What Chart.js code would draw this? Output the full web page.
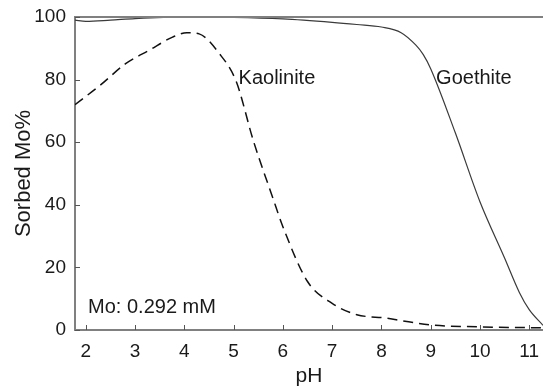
<!DOCTYPE html>
<html>
<head>
<meta charset="utf-8">
<script src="https://cdn.jsdelivr.net/npm/chart.js@4.4.1/dist/chart.umd.min.js"></script>
<style>
  html, body { margin: 0; padding: 0; background: #fff; }
  #wrap { width: 543px; height: 389px; }
</style>
</head>
<body>
<div id="wrap"><canvas id="sorption"></canvas></div>
<script>
// pH values and sorbed Mo (%) for each mineral
const goethitePH = [1.78, 2.0, 2.5, 3.0, 4.0, 5.0, 6.0, 7.0, 7.5, 8.0, 8.4, 8.7, 8.85, 9.0, 9.5, 10.0, 10.5, 10.8, 11.0, 11.28];
const goethiteMo = [99.0, 98.6, 99.0, 99.5, 100, 99.9, 99.4, 98.3, 97.6, 96.8, 95.0, 91.0, 88.0, 83.5, 63.0, 41.0, 23.0, 12.0, 6.5, 1.5];

const kaolinitePH = [1.78, 2.3, 2.8, 3.3, 3.75, 4.05, 4.3, 4.7, 5.05, 5.4, 5.8, 6.0, 6.5, 7.0, 7.5, 8.1, 8.4, 9.0, 10.0, 11.28];
const kaoliniteMo = [72.0, 78.3, 85.0, 89.5, 93.5, 95.0, 94.6, 88.5, 79.5, 60.5, 42.0, 33.0, 15.5, 8.5, 4.9, 3.8, 3.0, 1.6, 1.0, 0.7];

const xTicks = [2, 3, 4, 5, 6, 7, 8, 9, 10, 11];
const yTicks = [0, 20, 40, 60, 80, 100];

const FONT = 'Liberation Sans, Arial, sans-serif';
const INK = '#1a1a1a';
const AXIS = '#808080';

function pairs(xs, ys) {
    return xs.map((x, i) => ({ x: x, y: ys[i] }));
}

// text placed inside the plot, positioned in data units
const notes = [
    { text: 'Kaolinite', x: 5.1, y: 80.5 },
    { text: 'Goethite', x: 9.11, y: 80.5 },
    { text: 'Mo: 0.292 mM', x: 2.045, y: 7.3 }
];

const framePlugin = {
    id: 'frame',
    afterDraw(chart) {
        const { ctx, chartArea, scales } = chart;
        ctx.save();
        // top border
        ctx.strokeStyle = AXIS;
        ctx.lineWidth = 2;
        ctx.beginPath();
        ctx.moveTo(chartArea.left, chartArea.top);
        ctx.lineTo(chartArea.right, chartArea.top);
        ctx.stroke();
        // inward tick marks
        ctx.strokeStyle = '#555';
        ctx.lineWidth = 1;
        ctx.beginPath();
        xTicks.forEach(v => {
            const px = Math.round(scales.x.getPixelForValue(v)) + 0.5;
            ctx.moveTo(px, chartArea.bottom);
            ctx.lineTo(px, chartArea.bottom - 5);
        });
        yTicks.forEach(v => {
            const py = Math.round(scales.y.getPixelForValue(v)) + 0.5;
            ctx.moveTo(chartArea.left, py);
            ctx.lineTo(chartArea.left + 5, py);
        });
        ctx.stroke();
        // notes
        ctx.fillStyle = INK;
        ctx.font = '20px ' + FONT;
        ctx.textAlign = 'left';
        ctx.textBaseline = 'middle';
        notes.forEach(n => {
            ctx.fillText(n.text, scales.x.getPixelForValue(n.x), scales.y.getPixelForValue(n.y));
        });
        ctx.restore();
    }
};

new Chart(document.getElementById('sorption'), {
    type: 'line',
    data: {
        datasets: [
            {
                label: 'Goethite',
                data: pairs(goethitePH, goethiteMo),
                borderColor: '#3a3a3a',
                borderWidth: 1.2,
                pointRadius: 0,
                cubicInterpolationMode: 'monotone',
                fill: false
            },
            {
                label: 'Kaolinite',
                data: pairs(kaolinitePH, kaoliniteMo),
                borderColor: '#111',
                borderWidth: 1.5,
                borderDash: [10, 6],
                pointRadius: 0,
                cubicInterpolationMode: 'monotone',
                fill: false
            }
        ]
    },
    options: {
        responsive: true,
        maintainAspectRatio: false,
        animation: false,
        layout: { padding: { top: 17, right: 0, left: 0, bottom: 0 } },
        plugins: {
            legend: { display: false },
            tooltip: { enabled: false }
        },
        scales: {
            x: {
                type: 'linear',
                min: 1.78,
                max: 11.28,
                afterBuildTicks: axis => { axis.ticks = xTicks.map(v => ({ value: v })); },
                afterFit: axis => {
                    axis.height = 59;
                    axis.paddingLeft = 0;
                    axis.paddingRight = 0;
                },
                grid: { display: false, drawTicks: false },
                border: { display: true, color: AXIS, width: 2 },
                ticks: {
                    color: INK,
                    padding: 10,
                    maxRotation: 0,
                    font: { family: FONT, size: 19 }
                },
                title: {
                    display: true,
                    text: 'pH',
                    color: INK,
                    padding: { top: 0, bottom: 0 },
                    font: { family: FONT, size: 21 }
                }
            },
            y: {
                min: 0,
                max: 100,
                afterBuildTicks: axis => { axis.ticks = yTicks.map(v => ({ value: v })); },
                afterFit: axis => {
                    axis.width = 75;
                    axis.paddingTop = 0;
                    axis.paddingBottom = 0;
                },
                grid: { display: false, drawTicks: false },
                border: { display: true, color: AXIS, width: 2 },
                ticks: {
                    color: INK,
                    padding: 9,
                    font: { family: FONT, size: 19 }
                },
                title: {
                    display: true,
                    text: 'Sorbed Mo%',
                    color: INK,
                    padding: { top: 11, bottom: 0 },
                    font: { family: FONT, size: 22 }
                }
            }
        }
    },
    plugins: [framePlugin]
});
</script>
</body>
</html>
